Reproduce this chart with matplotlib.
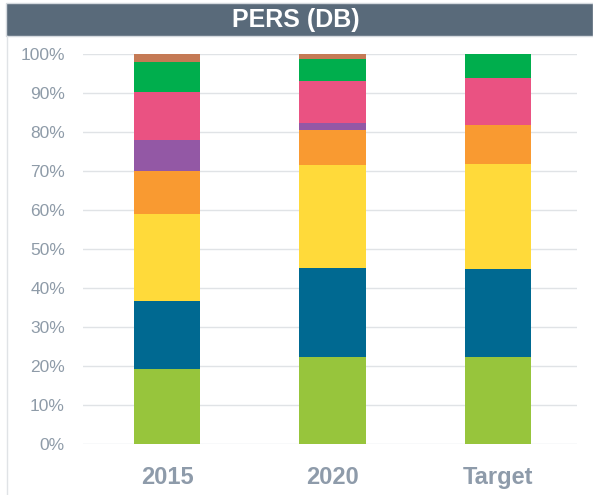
import matplotlib
matplotlib.use("Agg")
import matplotlib.pyplot as plt
from matplotlib.patches import Rectangle
from matplotlib.lines import Line2D
import numpy as np

plt.rcParams['font.family'] = ['Liberation Sans', 'DejaVu Sans']

categories = ["2015", "2020", "Target"]
series_names = ["S1", "S2", "S3", "S4", "S5", "S6", "S7", "S8"]
s1 = [19.2, 22.3, 22.3]
s2 = [17.5, 22.8, 22.6]
s3 = [22.3, 26.4, 26.9]
s4 = [11.0, 9.0, 10.0]
s5 = [8.0, 1.7, 0.0]
s6 = [12.3, 10.8, 12.0]
s7 = [7.6, 5.8, 6.2]
s8 = [2.1, 1.2, 0.0]
series = [s1, s2, s3, s4, s5, s6, s7, s8]
colors = ["#97C53C", "#006991", "#FFDA3A", "#F99A31", "#9358A5", "#EA5282", "#00AE4D", "#C57A55"]
yticks = [0, 10, 20, 30, 40, 50, 60, 70, 80, 90, 100]

fig = plt.figure(figsize=(5.93, 4.95), dpi=100)
ax = fig.add_axes([83/593, 51/495, (577-83)/593, (444-54)/495])

x = np.arange(len(categories))
bottom = np.zeros(len(categories))
for vals, c in zip(series, colors):
    v = np.array(vals)
    ax.bar(x, v, 0.4, bottom=bottom, color=c, edgecolor='none', zorder=3)
    bottom += v

ax.set_xlim(-0.51, 2.48)
ax.set_ylim(0, 100)
ax.set_yticks(yticks)
ax.set_yticklabels([f"{t}%" for t in yticks], color="#8E9BA8", fontsize=12.5)
ax.set_xticks(x)
ax.set_xticklabels(categories, color="#8E9BAA", fontsize=17, fontweight='bold')
ax.tick_params(length=0, axis='y', pad=13)
ax.tick_params(length=0, axis='x', pad=16)
ax.grid(axis='y', color="#E0E3E6", linewidth=1, zorder=0)
for s in ax.spines.values():
    s.set_visible(False)

# title banner
fig.patches.append(Rectangle((6/593, (495-36)/495), 1 - 6/593, 33/495,
                             transform=fig.transFigure, facecolor="#596A7A",
                             edgecolor="#D5DADF", linewidth=1))
fig.text(296/593, (495-20)/495, "PERS (DB)", color="white", fontsize=18,
         fontweight='bold', ha='center', va='center')
fig.lines.append(Line2D([7/593, 7/593], [0, (495-36)/495], transform=fig.transFigure,
                        color="#E0E3E6", linewidth=1))

fig.savefig("out.png", dpi=100)
